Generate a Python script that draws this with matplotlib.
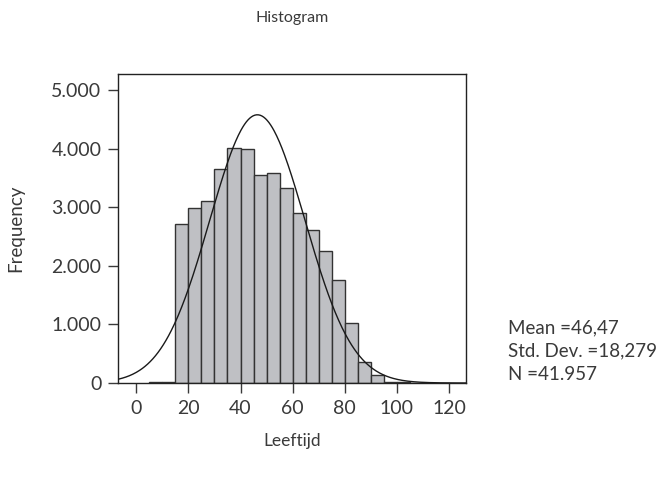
import numpy as np
import matplotlib
matplotlib.use("Agg")
import matplotlib.pyplot as plt
from matplotlib.ticker import FuncFormatter

plt.rcParams["font.family"] = ["Lato", "DejaVu Sans"]

# bin edges (Leeftijd) and counts
bin_edges = [5, 10, 15, 20, 25, 30, 35, 40, 45, 50, 55, 60, 65, 70, 75, 80,
             85, 90, 95, 100, 105, 110, 115]
counts = [15, 18, 2712, 2980, 3110, 3650, 4005, 4000, 3556, 3579, 3335, 2900,
          2610, 2254, 1750, 1020, 350, 136, 22, 10, 8, 5]

mean = 46.47
std = 18.279
n_total = 41957
bin_width = 5

fig = plt.figure(figsize=(6.65, 4.82), dpi=100)
ax = fig.add_axes([0.1774, 0.2054, 0.5234, 0.6411])

lefts = np.array(bin_edges[:-1])
ax.bar(lefts, counts, width=bin_width, align="edge", color="#bfc0c4",
       edgecolor="#333333", linewidth=1.0, zorder=2)

# normal curve from the summary statistics
xs = np.linspace(-7, 126.5, 400)
ys = n_total * bin_width / (std * np.sqrt(2 * np.pi)) * np.exp(-0.5 * ((xs - mean) / std) ** 2)
ax.plot(xs, ys, color="#1a1a1a", linewidth=1.0, zorder=3)

ax.set_xlim(-7, 126.5)
ax.set_ylim(0, 5275)
ax.set_xticks([0, 20, 40, 60, 80, 100, 120])
ax.set_yticks([0, 1000, 2000, 3000, 4000, 5000])
ax.yaxis.set_major_formatter(FuncFormatter(lambda v, p: f"{int(v):,}".replace(",", ".")))
ax.tick_params(axis="both", direction="out", length=7, width=1, labelsize=14,
               colors="#3a3a3a", pad=5)
for s in ax.spines.values():
    s.set_linewidth(1.0)
    s.set_color("#222222")

fig.text(0.439, 0.963, "Histogram", ha="center", va="center", fontsize=11.5, color="#3a3a3a")
fig.text(0.439, 0.085, "Leeftijd", ha="center", va="center", fontsize=12.5, color="#3a3a3a")
fig.text(0.023, 0.527, "Frequency", ha="center", va="center", rotation=90,
         fontsize=13.5, color="#3a3a3a")

stats = ["Mean =46,47", "Std. Dev. =18,279", "N =41.957"]
for i, line in enumerate(stats):
    fig.text(0.764, 0.320 - i * 0.048, line, ha="left", va="center",
             fontsize=13.5, color="#3a3a3a")

fig.savefig("out.png", dpi=100)
